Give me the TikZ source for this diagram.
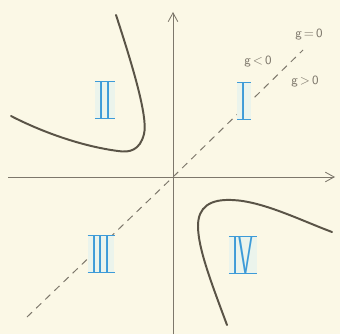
\documentclass[tikz,border=0pt]{standalone}
\usepackage{tikz}
\usetikzlibrary{arrows.meta}
\definecolor{paperc}{HTML}{FBF8E6}
\definecolor{curvec}{HTML}{5A5447}
\definecolor{axisc}{HTML}{7D776B}
\definecolor{numc}{HTML}{3D9BD8}
\definecolor{numbg}{HTML}{EBF4EC}
\tikzset{
  ax/.style={axisc,line width=0.6pt,-{Straight Barb[length=2.2mm,width=2.4mm]}},
  branch/.style={curvec,line width=1.4pt,line cap=round},
  zero/.style={axisc,line width=0.7pt,dash pattern=on 5pt off 4pt},
  glab/.style={axisc,font=\sffamily\small,inner sep=1pt},
  rn/.style={numc,fill=numbg,inner xsep=2.5pt,inner ysep=0pt,text depth=0pt,
    font=\fontsize{37}{37}\selectfont\sffamily},
  rnbar/.style={numc,line width=1pt}
}
\newcommand{\rnum}[3]{%
  \node[rn] (#1) at (#2) {\scalebox{0.45}[1]{#3}};
  \draw[rnbar] (#1.north west)--(#1.north east) (#1.south west)--(#1.south east);
}

\begin{document}
\begin{tikzpicture}[x=0.025cm,y=-0.025cm]
\fill[paperc] (0,0) rectangle (340,334);
\useasboundingbox (0,0) rectangle (340,334);
\coordinate (o) at (173,177);
\coordinate (ybot) at (173,334);
\coordinate (ytop) at (173,12);
\coordinate (xl) at (8,177);
\coordinate (xr) at (335,177);
\coordinate (gl) at (27,317);
\coordinate (gr) at (303,50);
% axes
\draw[ax] (ybot)--(ytop);
\draw[ax] (xl)--(xr);
% g=0
\draw[zero] (gl)--(o)--(gr);
\node[glab] (g0) at (309,35) {g\,=\,0};
\node[glab] (gneg) at (258,62) {g\,<\,0};
\node[glab] (gpos) at (305,82) {g\,>\,0};
% branches
\draw[branch] (116,15) .. controls (134,70) and (148,118) .. (144,134)
  .. controls (140,150) and (130,153) .. (118,151)
  .. controls (80,146) and (40,131) .. (11,116);
\draw[branch] (227,325) .. controls (211,282) and (198,248) .. (198,226)
  .. controls (198,207) and (210,199) .. (232,200)
  .. controls (262,201) and (300,220) .. (332,232);
% quadrants
\rnum{q1}{244,101}{I}
\rnum{q2}{105,100}{II}
\rnum{q3}{101,254}{III}
\rnum{q4}{243,255}{IV}
\end{tikzpicture}
\end{document}
